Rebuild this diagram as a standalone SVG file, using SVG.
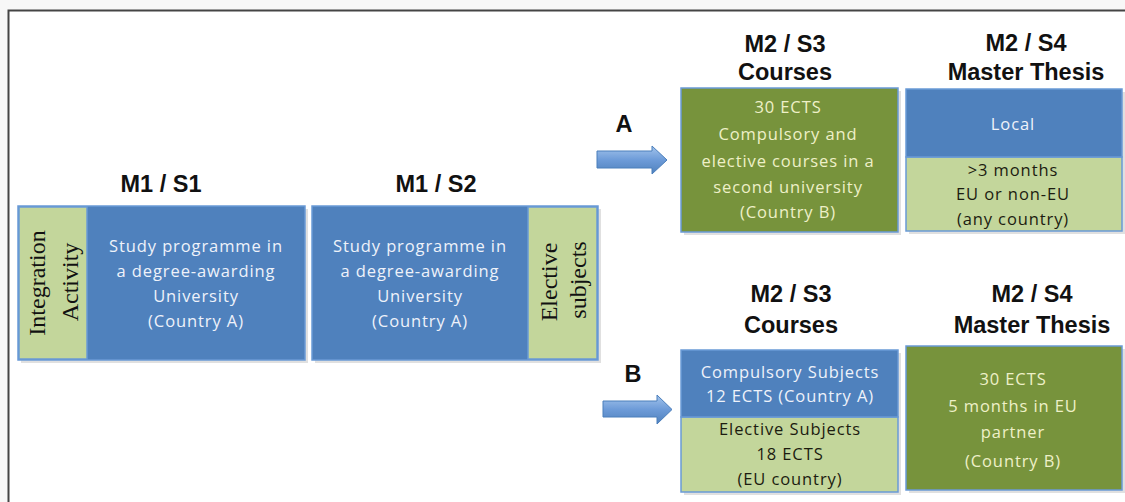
<svg xmlns="http://www.w3.org/2000/svg" width="1125" height="502" viewBox="0 0 1125 502">
<defs>
<linearGradient id="arrowGrad" x1="0" y1="0" x2="0" y2="1">
<stop offset="0" stop-color="#a3c4ec"/>
<stop offset="0.5" stop-color="#6d9bd8"/>
<stop offset="1" stop-color="#4f81bd"/>
</linearGradient>
</defs>
<style>
.blue{fill:#4f81bd;stroke:#6a9ad6;stroke-width:1.5}
.lg{fill:#c3d69b;stroke:#6a9ad6;stroke-width:1.5}
.ol{fill:#77933c;stroke:#6a9ad6;stroke-width:1.5}
.shadow{fill:#000;opacity:0.12}
.title{font-family:"Liberation Sans",Arial,sans-serif;font-weight:bold;font-size:23.5px;fill:#111;text-anchor:middle}
.tw{font-family:"Open Sans","Liberation Sans",sans-serif;font-size:16.5px;fill:#eef2fa;text-anchor:middle;letter-spacing:0.9px}
.ty{font-family:"Open Sans","Liberation Sans",sans-serif;font-size:16.5px;fill:#eef0c8;text-anchor:middle;letter-spacing:0.9px}
.td{font-family:"Open Sans","Liberation Sans",sans-serif;font-size:16.5px;fill:#1c1c10;text-anchor:middle;letter-spacing:0.9px}
.rs{font-family:"Liberation Serif","Times New Roman",serif;font-size:24px;fill:#111;text-anchor:middle}
.arrow{fill:url(#arrowGrad);stroke:#4a7ebb;stroke-width:1}
</style>
<rect x="0" y="0" width="1125" height="502" fill="#f7f7f7"/>
<rect x="8.5" y="10.5" width="1130" height="500" fill="#ffffff" stroke="#444" stroke-width="2"/>

<g id="m1s1">
<text class="title" x="161" y="192">M1 / S1</text>
<rect class="shadow" x="21" y="209" width="287" height="154"/>
<rect class="blue" x="18" y="206" width="287" height="154"/>
<rect class="lg" x="19" y="207" width="68" height="152" stroke="none"/>
<text class="rs" transform="translate(45,283) rotate(-90)">Integration</text>
<text class="rs" transform="translate(78,282) rotate(-90)">Activity</text>
<text class="tw" x="196" y="252">Study programme in</text>
<text class="tw" x="196" y="277">a degree-awarding</text>
<text class="tw" x="196" y="302">University</text>
<text class="tw" x="196" y="327">(Country A)</text>
</g>

<g id="m1s2">
<text class="title" x="436" y="192">M1 / S2</text>
<rect class="shadow" x="315" y="209" width="286" height="154"/>
<rect class="blue" x="312" y="206" width="286" height="154"/>
<rect class="lg" x="528" y="207" width="69" height="152" stroke="none"/>
<text class="rs" transform="translate(557,282) rotate(-90)">Elective</text>
<text class="rs" transform="translate(586,280) rotate(-90)">subjects</text>
<text class="tw" x="420" y="252">Study programme in</text>
<text class="tw" x="420" y="277">a degree-awarding</text>
<text class="tw" x="420" y="302">University</text>
<text class="tw" x="420" y="327">(Country A)</text>
</g>

<g id="labelA"><text class="title" x="624" y="132">A</text></g>
<g id="labelB"><text class="title" x="633" y="382">B</text></g>

<g id="m2s3a">
<text class="title" x="785" y="52">M2 / S3</text>
<text class="title" x="785" y="80">Courses</text>
<rect class="shadow" x="684" y="91" width="217" height="144"/>
<rect class="ol" x="681" y="88" width="217" height="144"/>
<text class="ty" x="788" y="113">30 ECTS</text>
<text class="ty" x="788" y="140">Compulsory and</text>
<text class="ty" x="788" y="167">elective courses in a</text>
<text class="ty" x="788" y="193">second university</text>
<text class="ty" x="788" y="218">(Country B)</text>
</g>

<g id="m2s4a">
<text class="title" x="1026" y="51">M2 / S4</text>
<text class="title" x="1026" y="80">Master Thesis</text>
<rect class="shadow" x="909" y="92" width="216" height="142"/>
<rect class="lg" x="906" y="157" width="216" height="74"/>
<rect class="blue" x="906" y="89" width="216" height="68"/>
<text class="tw" x="1013" y="130">Local</text>
<text class="td" x="1013" y="176">&gt;3 months</text>
<text class="td" x="1013" y="200">EU or non-EU</text>
<text class="td" x="1013" y="225">(any country)</text>
</g>

<g id="m2s3b">
<text class="title" x="791" y="302">M2 / S3</text>
<text class="title" x="791" y="333">Courses</text>
<rect class="shadow" x="684" y="353" width="217" height="142"/>
<rect class="lg" x="681" y="417" width="217" height="75"/>
<rect class="blue" x="681" y="350" width="217" height="67"/>
<text class="tw" x="790" y="378">Compulsory Subjects</text>
<text class="tw" x="790" y="402">12 ECTS (Country A)</text>
<text class="td" x="790" y="435">Elective Subjects</text>
<text class="td" x="790" y="460">18 ECTS</text>
<text class="td" x="790" y="485">(EU country)</text>
</g>

<g id="m2s4b">
<text class="title" x="1032" y="302">M2 / S4</text>
<text class="title" x="1032" y="333">Master Thesis</text>
<rect class="shadow" x="909" y="349" width="216" height="144"/>
<rect class="ol" x="906" y="346" width="216" height="144"/>
<text class="ty" x="1013" y="385">30 ECTS</text>
<text class="ty" x="1013" y="412">5 months in EU</text>
<text class="ty" x="1013" y="438">partner</text>
<text class="ty" x="1013" y="467">(Country B)</text>
</g>

<g id="connectors">
<path class="arrow" d="M597,151 L652,151 L652,146 L667,160 L652,174 L652,168 L597,168 Z"/>
<path class="arrow" d="M603,401 L657,401 L657,395 L672,409.5 L657,424 L657,417 L603,417 Z"/>
</g>
</svg>
